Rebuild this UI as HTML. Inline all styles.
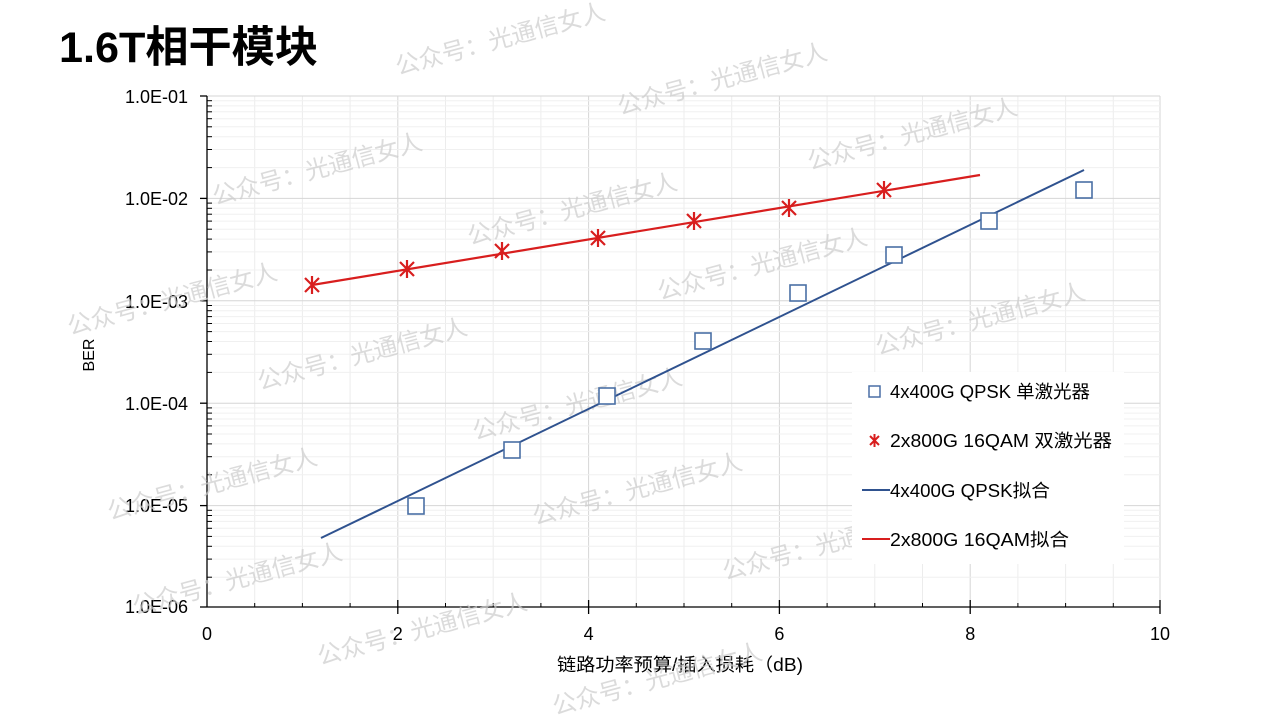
<!DOCTYPE html>
<html><head><meta charset="utf-8"><style>
html,body{margin:0;padding:0;background:#fff;}
svg{display:block;font-family:"Liberation Sans","Noto Sans CJK SC",sans-serif;}
</style></head><body>
<svg width="1280" height="719" viewBox="0 0 1280 719" xmlns="http://www.w3.org/2000/svg">
<rect width="1280" height="719" fill="#fff"/>
<text x="59" y="62" font-size="43" font-weight="bold" fill="#000" textLength="259" lengthAdjust="spacingAndGlyphs">1.6T相干模块</text>
<g stroke="#ececec" stroke-width="1">
<line x1="254.7" y1="96" x2="254.7" y2="607"/><line x1="350.1" y1="96" x2="350.1" y2="607"/><line x1="445.5" y1="96" x2="445.5" y2="607"/><line x1="540.9" y1="96" x2="540.9" y2="607"/><line x1="636.3" y1="96" x2="636.3" y2="607"/><line x1="731.7" y1="96" x2="731.7" y2="607"/><line x1="827.1" y1="96" x2="827.1" y2="607"/><line x1="922.5" y1="96" x2="922.5" y2="607"/><line x1="1017.9" y1="96" x2="1017.9" y2="607"/><line x1="1113.3" y1="96" x2="1113.3" y2="607"/>
<line x1="302.4" y1="96" x2="302.4" y2="607"/><line x1="493.2" y1="96" x2="493.2" y2="607"/><line x1="684" y1="96" x2="684" y2="607"/><line x1="874.8" y1="96" x2="874.8" y2="607"/><line x1="1065.6" y1="96" x2="1065.6" y2="607"/>
</g>
<g stroke="#d6d6d6">
<line x1="207" y1="96" x2="1160" y2="96"/><line x1="207" y1="198.4" x2="1160" y2="198.4"/><line x1="207" y1="300.8" x2="1160" y2="300.8"/><line x1="207" y1="403.2" x2="1160" y2="403.2"/><line x1="207" y1="505.6" x2="1160" y2="505.6"/>
<line x1="397.8" y1="96" x2="397.8" y2="607"/><line x1="588.6" y1="96" x2="588.6" y2="607"/><line x1="779.4" y1="96" x2="779.4" y2="607"/><line x1="970.2" y1="96" x2="970.2" y2="607"/><line x1="1160" y1="96" x2="1160" y2="607"/>
</g>
<g stroke="#f0f0f0">
<line x1="207" y1="167.6" x2="1160" y2="167.6"/><line x1="207" y1="149.5" x2="1160" y2="149.5"/><line x1="207" y1="136.7" x2="1160" y2="136.7"/><line x1="207" y1="126.8" x2="1160" y2="126.8"/><line x1="207" y1="118.7" x2="1160" y2="118.7"/><line x1="207" y1="111.8" x2="1160" y2="111.8"/><line x1="207" y1="105.9" x2="1160" y2="105.9"/><line x1="207" y1="100.7" x2="1160" y2="100.7"/>
<line x1="207" y1="270" x2="1160" y2="270"/><line x1="207" y1="251.9" x2="1160" y2="251.9"/><line x1="207" y1="239.1" x2="1160" y2="239.1"/><line x1="207" y1="229.2" x2="1160" y2="229.2"/><line x1="207" y1="221.1" x2="1160" y2="221.1"/><line x1="207" y1="214.2" x2="1160" y2="214.2"/><line x1="207" y1="208.3" x2="1160" y2="208.3"/><line x1="207" y1="203.1" x2="1160" y2="203.1"/>
<line x1="207" y1="372.4" x2="1160" y2="372.4"/><line x1="207" y1="354.3" x2="1160" y2="354.3"/><line x1="207" y1="341.5" x2="1160" y2="341.5"/><line x1="207" y1="331.6" x2="1160" y2="331.6"/><line x1="207" y1="323.5" x2="1160" y2="323.5"/><line x1="207" y1="316.6" x2="1160" y2="316.6"/><line x1="207" y1="310.7" x2="1160" y2="310.7"/><line x1="207" y1="305.5" x2="1160" y2="305.5"/>
<line x1="207" y1="474.8" x2="1160" y2="474.8"/><line x1="207" y1="456.7" x2="1160" y2="456.7"/><line x1="207" y1="443.9" x2="1160" y2="443.9"/><line x1="207" y1="434" x2="1160" y2="434"/><line x1="207" y1="425.9" x2="1160" y2="425.9"/><line x1="207" y1="419" x2="1160" y2="419"/><line x1="207" y1="413.1" x2="1160" y2="413.1"/><line x1="207" y1="407.9" x2="1160" y2="407.9"/>
<line x1="207" y1="577.2" x2="1160" y2="577.2"/><line x1="207" y1="559.1" x2="1160" y2="559.1"/><line x1="207" y1="546.3" x2="1160" y2="546.3"/><line x1="207" y1="536.4" x2="1160" y2="536.4"/><line x1="207" y1="528.3" x2="1160" y2="528.3"/><line x1="207" y1="521.4" x2="1160" y2="521.4"/><line x1="207" y1="515.5" x2="1160" y2="515.5"/><line x1="207" y1="510.3" x2="1160" y2="510.3"/>
</g>
<g stroke="#000" stroke-width="1.3">
<line x1="207" y1="96" x2="207" y2="607"/><line x1="207" y1="607" x2="1160" y2="607"/>
<line x1="200" y1="96" x2="207" y2="96"/><line x1="200" y1="198.4" x2="207" y2="198.4"/><line x1="200" y1="300.8" x2="207" y2="300.8"/><line x1="200" y1="403.2" x2="207" y2="403.2"/><line x1="200" y1="505.6" x2="207" y2="505.6"/><line x1="200" y1="607" x2="207" y2="607"/>
<line x1="397.8" y1="600" x2="397.8" y2="614"/><line x1="588.6" y1="600" x2="588.6" y2="614"/><line x1="779.4" y1="600" x2="779.4" y2="614"/><line x1="970.2" y1="600" x2="970.2" y2="614"/><line x1="1160" y1="600" x2="1160" y2="614"/>
</g>
<g stroke="#000" stroke-width="1">
<line x1="254.7" y1="607" x2="254.7" y2="603"/><line x1="302.4" y1="607" x2="302.4" y2="603"/><line x1="350.1" y1="607" x2="350.1" y2="603"/><line x1="445.5" y1="607" x2="445.5" y2="603"/><line x1="493.2" y1="607" x2="493.2" y2="603"/><line x1="540.9" y1="607" x2="540.9" y2="603"/><line x1="636.3" y1="607" x2="636.3" y2="603"/><line x1="684" y1="607" x2="684" y2="603"/><line x1="731.7" y1="607" x2="731.7" y2="603"/><line x1="827.1" y1="607" x2="827.1" y2="603"/><line x1="874.8" y1="607" x2="874.8" y2="603"/><line x1="922.5" y1="607" x2="922.5" y2="603"/><line x1="1017.9" y1="607" x2="1017.9" y2="603"/><line x1="1065.6" y1="607" x2="1065.6" y2="603"/><line x1="1113.3" y1="607" x2="1113.3" y2="603"/>
<line x1="207" y1="167.6" x2="212" y2="167.6"/><line x1="207" y1="149.5" x2="212" y2="149.5"/><line x1="207" y1="136.7" x2="212" y2="136.7"/><line x1="207" y1="126.8" x2="212" y2="126.8"/><line x1="207" y1="118.7" x2="212" y2="118.7"/><line x1="207" y1="111.8" x2="212" y2="111.8"/><line x1="207" y1="105.9" x2="212" y2="105.9"/><line x1="207" y1="100.7" x2="212" y2="100.7"/>
<line x1="207" y1="270" x2="212" y2="270"/><line x1="207" y1="251.9" x2="212" y2="251.9"/><line x1="207" y1="239.1" x2="212" y2="239.1"/><line x1="207" y1="229.2" x2="212" y2="229.2"/><line x1="207" y1="221.1" x2="212" y2="221.1"/><line x1="207" y1="214.2" x2="212" y2="214.2"/><line x1="207" y1="208.3" x2="212" y2="208.3"/><line x1="207" y1="203.1" x2="212" y2="203.1"/>
<line x1="207" y1="372.4" x2="212" y2="372.4"/><line x1="207" y1="354.3" x2="212" y2="354.3"/><line x1="207" y1="341.5" x2="212" y2="341.5"/><line x1="207" y1="331.6" x2="212" y2="331.6"/><line x1="207" y1="323.5" x2="212" y2="323.5"/><line x1="207" y1="316.6" x2="212" y2="316.6"/><line x1="207" y1="310.7" x2="212" y2="310.7"/><line x1="207" y1="305.5" x2="212" y2="305.5"/>
<line x1="207" y1="474.8" x2="212" y2="474.8"/><line x1="207" y1="456.7" x2="212" y2="456.7"/><line x1="207" y1="443.9" x2="212" y2="443.9"/><line x1="207" y1="434" x2="212" y2="434"/><line x1="207" y1="425.9" x2="212" y2="425.9"/><line x1="207" y1="419" x2="212" y2="419"/><line x1="207" y1="413.1" x2="212" y2="413.1"/><line x1="207" y1="407.9" x2="212" y2="407.9"/>
<line x1="207" y1="577.2" x2="212" y2="577.2"/><line x1="207" y1="559.1" x2="212" y2="559.1"/><line x1="207" y1="546.3" x2="212" y2="546.3"/><line x1="207" y1="536.4" x2="212" y2="536.4"/><line x1="207" y1="528.3" x2="212" y2="528.3"/><line x1="207" y1="521.4" x2="212" y2="521.4"/><line x1="207" y1="515.5" x2="212" y2="515.5"/><line x1="207" y1="510.3" x2="212" y2="510.3"/>
</g>
<g font-size="18" fill="#000" text-anchor="end">
<text x="188" y="103">1.0E-01</text><text x="188" y="205">1.0E-02</text><text x="188" y="308">1.0E-03</text><text x="188" y="410">1.0E-04</text><text x="188" y="512">1.0E-05</text><text x="188" y="613">1.0E-06</text>
</g>
<g font-size="18" fill="#000" text-anchor="middle">
<text x="207" y="640">0</text><text x="397.8" y="640">2</text><text x="588.6" y="640">4</text><text x="779.4" y="640">6</text><text x="970.2" y="640">8</text><text x="1160" y="640">10</text>
<text x="680" y="671" font-size="18" textLength="246" lengthAdjust="spacingAndGlyphs">链路功率预算/插入损耗（dB)</text>
<text x="0" y="0" transform="translate(94,355) rotate(-90)" font-size="16">BER</text>
</g>
<g font-size="24" fill="#cccccc" fill-opacity="0.7" font-family="'Noto Sans CJK SC',sans-serif">
<text transform="translate(398,75) rotate(-15)">公众号：光通信女人</text>
<text transform="translate(620,115) rotate(-15)">公众号：光通信女人</text>
<text transform="translate(810,170) rotate(-15)">公众号：光通信女人</text>
<text transform="translate(215,205) rotate(-15)">公众号：光通信女人</text>
<text transform="translate(470,245) rotate(-15)">公众号：光通信女人</text>
<text transform="translate(660,300) rotate(-15)">公众号：光通信女人</text>
<text transform="translate(878,355) rotate(-15)">公众号：光通信女人</text>
<text transform="translate(70,335) rotate(-15)">公众号：光通信女人</text>
<text transform="translate(260,390) rotate(-15)">公众号：光通信女人</text>
<text transform="translate(475,440) rotate(-15)">公众号：光通信女人</text>
<text transform="translate(110,520) rotate(-15)">公众号：光通信女人</text>
<text transform="translate(535,525) rotate(-15)">公众号：光通信女人</text>
<text transform="translate(725,580) rotate(-15)">公众号：光通信女人</text>
<text transform="translate(135,615) rotate(-15)">公众号：光通信女人</text>
<text transform="translate(320,665) rotate(-15)">公众号：光通信女人</text>
<text transform="translate(555,715) rotate(-15)">公众号：光通信女人</text>
</g>
<line x1="321" y1="538" x2="1084" y2="170" stroke="#2f528f" stroke-width="2"/>
<line x1="312" y1="285" x2="980" y2="175" stroke="#d81e1e" stroke-width="2.2"/>
<g fill="#fff" stroke="#4a6fa5" stroke-width="1.6">
<rect x="408" y="498" width="16" height="16"/><rect x="504" y="442" width="16" height="16"/><rect x="599" y="388" width="16" height="16"/><rect x="695" y="333" width="16" height="16"/><rect x="790" y="285" width="16" height="16"/><rect x="886" y="247" width="16" height="16"/><rect x="981" y="213" width="16" height="16"/><rect x="1076" y="182" width="16" height="16"/>
</g>
<g stroke="#d81e1e" stroke-width="2.2" fill="none">
<path d="M305 278l14 14M319 278l-14 14M312 276v18"/>
<path d="M400 262l14 14M414 262l-14 14M407 260v18"/>
<path d="M495 244l14 14M509 244l-14 14M502 242v18"/>
<path d="M591 231l14 14M605 231l-14 14M598 229v18"/>
<path d="M687 214l14 14M701 214l-14 14M694 212v18"/>
<path d="M782 201l14 14M796 201l-14 14M789 199v18"/>
<path d="M877 183l14 14M891 183l-14 14M884 181v18"/>
</g>
<rect x="852" y="372" width="272" height="192" fill="#fff"/>
<g font-size="18" fill="#000">
<rect x="869" y="386" width="11" height="11" fill="#fff" stroke="#4a6fa5" stroke-width="1.5"/>
<text x="890" y="398" textLength="200" lengthAdjust="spacingAndGlyphs">4x400G QPSK 单激光器</text>
<path d="M870 436l9 9M879 436l-9 9M874.5 434v13" stroke="#d81e1e" stroke-width="2" fill="none"/>
<text x="890" y="447" textLength="222" lengthAdjust="spacingAndGlyphs">2x800G 16QAM 双激光器</text>
<line x1="862" y1="490" x2="890" y2="490" stroke="#2f528f" stroke-width="2"/>
<text x="890" y="497" textLength="160" lengthAdjust="spacingAndGlyphs">4x400G QPSK拟合</text>
<line x1="862" y1="539" x2="890" y2="539" stroke="#d81e1e" stroke-width="2"/>
<text x="890" y="546" textLength="179" lengthAdjust="spacingAndGlyphs">2x800G 16QAM拟合</text>
</g>
</svg>
</body></html>
